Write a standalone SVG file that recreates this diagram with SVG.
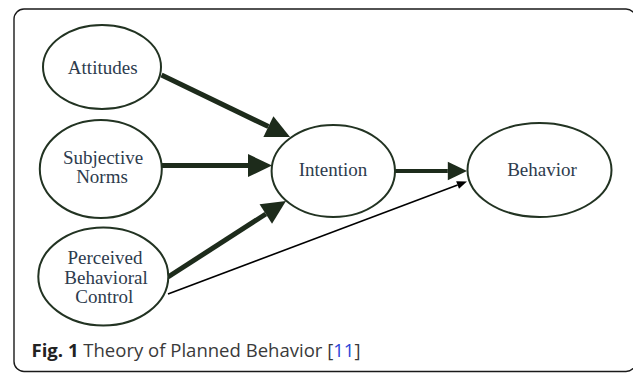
<svg xmlns="http://www.w3.org/2000/svg" width="633" height="373" viewBox="0 0 633 373">
<style>
.node ellipse{fill:#fff;stroke:#223322;stroke-width:2}
.node text{font-family:"Liberation Serif",serif;font-size:19px;fill:#2d3b4d;text-anchor:middle}
.conn line{stroke:#1d2b1b;fill:none}
.cap{font-family:"Open Sans","Noto Sans",sans-serif;font-size:18.5px;fill:#3a3a3a}
</style>
<defs>
<marker id="ah" markerUnits="strokeWidth" markerWidth="5" markerHeight="5" refX="0" refY="2.3" orient="auto" overflow="visible">
<path d="M0,0 L4.8,2.3 L0,4.6 z" fill="#1d2b1b"/>
</marker>
<marker id="ahs" markerUnits="userSpaceOnUse" markerWidth="11" markerHeight="9" refX="0" refY="4" orient="auto" overflow="visible">
<path d="M0,0 L10,4 L0,8 z" fill="#000"/>
</marker>
</defs>
<rect x="14" y="9" width="622" height="362.5" rx="10" ry="10" fill="none" stroke="#1a1a1a" stroke-width="1.4"/>
<g class="conn" id="connectors">
<line x1="161.5" y1="75" x2="268.4" y2="126.6" stroke-width="5" marker-end="url(#ah)"/>
<line x1="162" y1="165.5" x2="248" y2="165.5" stroke-width="5" marker-end="url(#ah)"/>
<line x1="168" y1="277" x2="265.8" y2="214" stroke-width="5" marker-end="url(#ah)"/>
<line x1="395" y1="171" x2="447.8" y2="171" stroke-width="4" marker-end="url(#ah)"/>
<line x1="168" y1="294" x2="457.6" y2="185" stroke-width="1.6" style="stroke:#000" marker-end="url(#ahs)"/>
</g>
<g class="node" id="attitudes">
<ellipse cx="102" cy="67" rx="59" ry="42"/>
<text x="102.7" y="74.3">Attitudes</text>
</g>
<g class="node" id="subjective-norms">
<ellipse cx="100.8" cy="169" rx="61" ry="49"/>
<text x="103" y="164.3">Subjective</text>
<text x="102" y="183.3">Norms</text>
</g>
<g class="node" id="perceived-behavioral-control">
<ellipse cx="103.3" cy="276.5" rx="65" ry="49"/>
<text x="105" y="264.3">Perceived</text>
<text x="106" y="283.8">Behavioral</text>
<text x="104.3" y="303.3">Control</text>
</g>
<g class="node" id="intention">
<ellipse cx="333.3" cy="171" rx="61.7" ry="46"/>
<text x="333" y="176">Intention</text>
</g>
<g class="node" id="behavior">
<ellipse cx="539.5" cy="170" rx="72" ry="47"/>
<text x="542" y="175.7">Behavior</text>
</g>
<text class="cap" x="31.5" y="357" textLength="329" lengthAdjust="spacingAndGlyphs"><tspan font-weight="bold" fill="#222">Fig. 1</tspan> Theory of Planned Behavior [<tspan fill="#2a46d8">11</tspan>]</text>
</svg>
